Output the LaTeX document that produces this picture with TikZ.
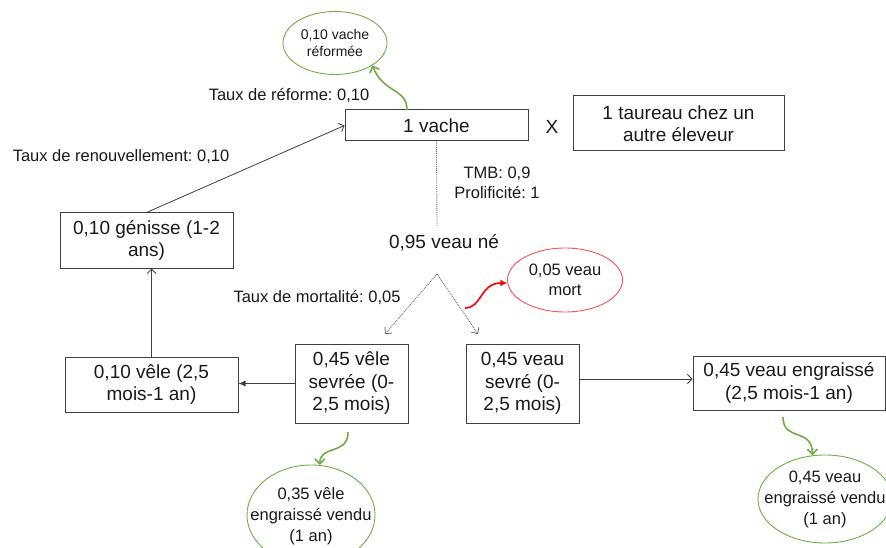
\documentclass[tikz,border=0pt]{standalone}
\usepackage{fontspec}
\setmainfont{Liberation Sans}
\frenchspacing
\usetikzlibrary{arrows.meta,shapes.geometric}
\definecolor{gr}{HTML}{70AD47}
\definecolor{rd}{HTML}{FF0000}
\definecolor{rdl}{HTML}{FF5050}
\definecolor{bd}{HTML}{404040}
\definecolor{tx}{HTML}{1A1A1A}
\begin{document}
\begin{tikzpicture}[x=1pt,y=-1pt,
  box/.style={draw=bd,line width=1pt,inner sep=0pt,align=center,text=tx,
    font=\fontsize{19}{22.5}\selectfont},
  lbl/.style={inner sep=0pt,align=center,text=tx,font=\fontsize{16.5}{20.5}\selectfont},
  big/.style={inner sep=0pt,align=center,text=tx,font=\fontsize{19}{22.5}\selectfont},
  etxt/.style={inner sep=0pt,align=center,text=tx,font=\fontsize{16.5}{21}\selectfont},
  gell/.style={ellipse,draw=gr,line width=0.9pt,inner sep=0pt},
  rell/.style={ellipse,draw=rdl,line width=0.9pt,inner sep=0pt},
  arr/.style={draw=bd,line width=0.8pt,-{Straight Barb[length=4.5pt,width=9pt]}},
  arrf/.style={draw=bd,line width=0.8pt,-{Latex[length=7pt,width=6pt]}},
  dotl/.style={draw=black!60,line width=0.9pt,densely dotted},
  dot/.style={dotl,-{Straight Barb[length=4.5pt,width=9pt,line width=0.8pt]}},
  garr/.style={draw=gr,line width=1.6pt,-{Straight Barb[length=5pt,width=10pt]}},
  rarr/.style={draw=rd,line width=1.6pt,-{Latex[length=7pt,width=7pt]}}]
\useasboundingbox (0,0) rectangle (886,548);
\fill[white] (0,0) rectangle (886,548);

% boxes
\node[box,minimum width=183pt,minimum height=31pt] (vache) at (436.5,125.5) {1 vache};
\node[box,minimum width=211pt,minimum height=55pt] (taureau) at (678.5,123.5) {1 taureau chez un\\autre éleveur};
\node[big] (x) at (552,127) {X};
\node[box,minimum width=173pt,minimum height=55pt] (genisse) at (146.5,240.5) {0,10 génisse (1-2\\ans)};
\node[box,minimum width=173pt,minimum height=55pt] (vele) at (151.5,384.5) {0,10 vêle (2,5\\mois-1 an)};
\node[box,minimum width=113pt,minimum height=79pt] (vs) at (351.5,383.5) {0,45 vêle\\sevrée (0-\\2,5 mois)};
\node[box,minimum width=113pt,minimum height=79pt] (vos) at (522.5,383.5) {0,45 veau\\sevré (0-\\2,5 mois)};
\node[box,minimum width=192pt,minimum height=54pt] (veng) at (789,383) {0,45 veau engraissé\\(2,5 mois-1 an)};

% ellipses (shape and text as separate nodes)
\node[gell,minimum width=104pt,minimum height=63pt] (ref) at (335,43) {};
\node[etxt,font=\fontsize{14}{17}\selectfont] (reft) at (ref.center) {0,10 vache\\réformée};
\node[rell,minimum width=115pt,minimum height=64pt] (dead) at (565,280) {};
\node[etxt,font=\fontsize{16.5}{20.5}\selectfont] (deadt) at (dead.center) {0,05 veau\\mort};
\node[gell,minimum width=128pt,minimum height=100pt] (sold1) at (311,515) {};
\node[etxt] (sold1t) at ([yshift=-1pt]sold1.center) {0,35 vêle\\engraissé vendu\\(1 an)};
\node[gell,minimum width=134pt,minimum height=88pt] (sold2) at (825,499) {};
\node[etxt] (sold2t) at (sold2.center) {0,45 veau\\engraissé vendu\\(1 an)};

% labels
\node[lbl] (lref) at (289,95) {Taux de réforme: 0,10};
\node[lbl] (lren) at (121,157) {Taux de renouvellement: 0,10};
\node[lbl] (ltmb) at (497,183) {TMB: 0,9\\Prolificité: 1};
\node[big] (ne) at (444,243) {0,95 veau né};
\node[lbl] (lmort) at (317,297) {Taux de mortalité: 0,05};

% coordinates
\coordinate (dend) at (437,226);
\coordinate (apex) at (437,274);
\coordinate (dl) at (385,334);
\coordinate (dr) at (478,334);
\coordinate (rs) at (465,308);
\coordinate (g1s) at (407,110);
\coordinate (g2s) at (348,432);
\coordinate (g3s) at (783,417);

% straight connectors
\draw[arr] (genisse.north) -- (vache.west);
\draw[arr] (vele.north) -- (vele.north |- genisse.south);
\draw[arrf] (vs.west) -- (vs.west -| vele.east);
\draw[arr] ([yshift=4.5pt]vos.east) -- ([yshift=4.5pt]vos.east -| veng.west);

% dotted
\draw[dotl] (vache.south) -- (dend);
\draw[dot] (apex) -- (dl);
\draw[dot] (apex) -- (dr);

% curved coloured arrows
\draw[garr] (g1s) .. controls (407,88) and (384,94) .. (ref.-31);
\draw[rarr] (rs) .. controls (482,308) and (480,283) .. (dead.183);
\draw[garr] (g2s) .. controls (348,456) and (320,444) .. (sold1.80);
\draw[garr] (g3s) .. controls (783,442) and (812,427) .. (sold2.106);
\end{tikzpicture}
\end{document}
